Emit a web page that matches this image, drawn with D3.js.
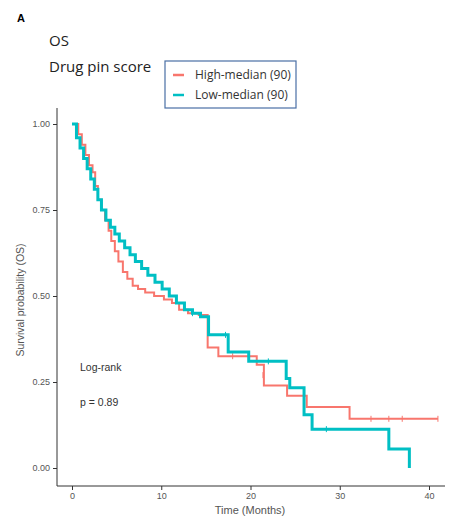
<!DOCTYPE html>
<html><head><meta charset="utf-8">
<script src="https://cdn.jsdelivr.net/npm/d3@7"></script>
<style>body{margin:0;background:#fff}</style></head>
<body><svg id="c" width="460" height="531"></svg>
<script>
const highTimes=[0,0.7,1.1,1.5,1.9,2.3,2.6,2.9,3.3,3.7,4.1,4.4,4.8,5.2,5.7,6.2,6.8,7.4,8.2,9.2,10.3,11.2,12.0,13.0,14.2,15.2,16.4,20.7,21.5,24.1,26.3,31.1,41];
const highSurv=[1,0.97,0.94,0.91,0.88,0.86,0.82,0.78,0.75,0.72,0.69,0.66,0.63,0.60,0.57,0.55,0.53,0.52,0.51,0.50,0.49,0.48,0.46,0.45,0.445,0.35,0.325,0.30,0.24,0.21,0.177,0.143,0.143];
const lowTimes=[0,0.5,0.9,1.3,1.7,2.1,2.5,2.9,3.3,3.8,4.3,4.8,5.3,5.9,6.5,7.1,7.8,8.5,9.3,10.1,10.9,11.7,12.6,13.5,14.4,15.3,17.5,19.8,24.0,24.4,26.0,26.9,35.5,37.8];
const lowSurv=[1,0.96,0.93,0.90,0.87,0.84,0.81,0.78,0.75,0.72,0.70,0.68,0.66,0.64,0.62,0.60,0.58,0.56,0.54,0.52,0.50,0.48,0.46,0.45,0.44,0.387,0.337,0.31,0.26,0.233,0.155,0.113,0.055,0];
const highCens=[[33.5,0.143],[35.5,0.143],[37,0.143],[41,0.143],[18,0.325],[21.4,0.27]];
const lowCens=[[28.5,0.113],[22,0.31],[17.2,0.387],[13.5,0.45]];
const xTicks=[0,10,20,30,40];
const yTicks=[0,0.25,0.5,0.75,1];
const svg=d3.select("#c");
const x=d3.scaleLinear().domain([0,40]).range([72,429]);
const y=d3.scaleLinear().domain([0,1]).range([468,124]);
const grey="#555";
svg.append("text").attr("x",17).attr("y",22).text("A").attr("font-family","Liberation Sans").attr("font-weight","bold").attr("font-size",11);
svg.append("text").attr("x",49).attr("y",46).text("OS").attr("font-family","Open Sans").attr("font-size",15).attr("fill","#222");
svg.append("text").attr("x",49).attr("y",72).text("Drug pin score").attr("font-family","Open Sans").attr("font-size",15).attr("fill","#222");
// legend
svg.append("rect").attr("x",165).attr("y",61).attr("width",131).attr("height",47).attr("fill","#fff").attr("stroke","#4a6fa5").attr("stroke-width",1.2);
[["High-median (90)","#f8766d",78],["Low-median (90)","#00bfc4",98]].forEach(([t,c,yy])=>{
 svg.append("line").attr("x1",173).attr("x2",184).attr("y1",yy-3).attr("y2",yy-3).attr("stroke",c).attr("stroke-width",2.5);
 svg.append("text").attr("x",195).attr("y",yy+1).text(t).attr("font-family","Open Sans").attr("font-size",12).attr("fill","#333");
});
// axes
const gx=svg.append("g").attr("transform","translate(0,486)").call(d3.axisBottom(x).tickValues(xTicks).tickSize(4));
gx.select(".domain").attr("d","M57,0H445").attr("stroke","#333");
const gy=svg.append("g").attr("transform","translate(57,0)").call(d3.axisLeft(y).tickValues(yTicks).tickFormat(d3.format(".2f")).tickSize(4));
gy.select(".domain").attr("d","M0,108V486").attr("stroke","#333");
svg.selectAll(".tick text").attr("font-family","Liberation Sans").attr("font-size",9).attr("fill",grey);
svg.selectAll(".tick line").attr("stroke","#333");
svg.append("text").attr("x",250).attr("y",514).attr("text-anchor","middle").text("Time (Months)").attr("font-family","Liberation Sans").attr("font-size",11).attr("fill",grey);
svg.append("text").attr("transform","translate(24,300) rotate(-90)").attr("text-anchor","middle").text("Survival probability (OS)").attr("font-family","Liberation Sans").attr("font-size",10.5).attr("fill",grey);
svg.append("text").attr("x",80).attr("y",371).text("Log-rank").attr("font-family","Liberation Sans").attr("font-size",10.5).attr("fill","#333");
svg.append("text").attr("x",80).attr("y",406).text("p = 0.89").attr("font-family","Liberation Sans").attr("font-size",10.5).attr("fill","#333");
const line=d3.line().x(d=>x(d[0])).y(d=>y(d[1])).curve(d3.curveStepAfter);
function draw(ts,ss,c,w,cens){
 const pts=ts.map((t,i)=>[t,ss[i]]);
 svg.append("path").attr("d",line(pts)).attr("fill","none").attr("stroke",c).attr("stroke-width",w);
 cens.forEach(d=>svg.append("line").attr("x1",x(d[0])).attr("x2",x(d[0])).attr("y1",y(d[1])-3).attr("y2",y(d[1])+3).attr("stroke",c).attr("stroke-width",1));
}
draw(highTimes,highSurv,"#f8766d",2,highCens);
draw(lowTimes,lowSurv,"#00bfc4",3,lowCens);
</script></body></html>
